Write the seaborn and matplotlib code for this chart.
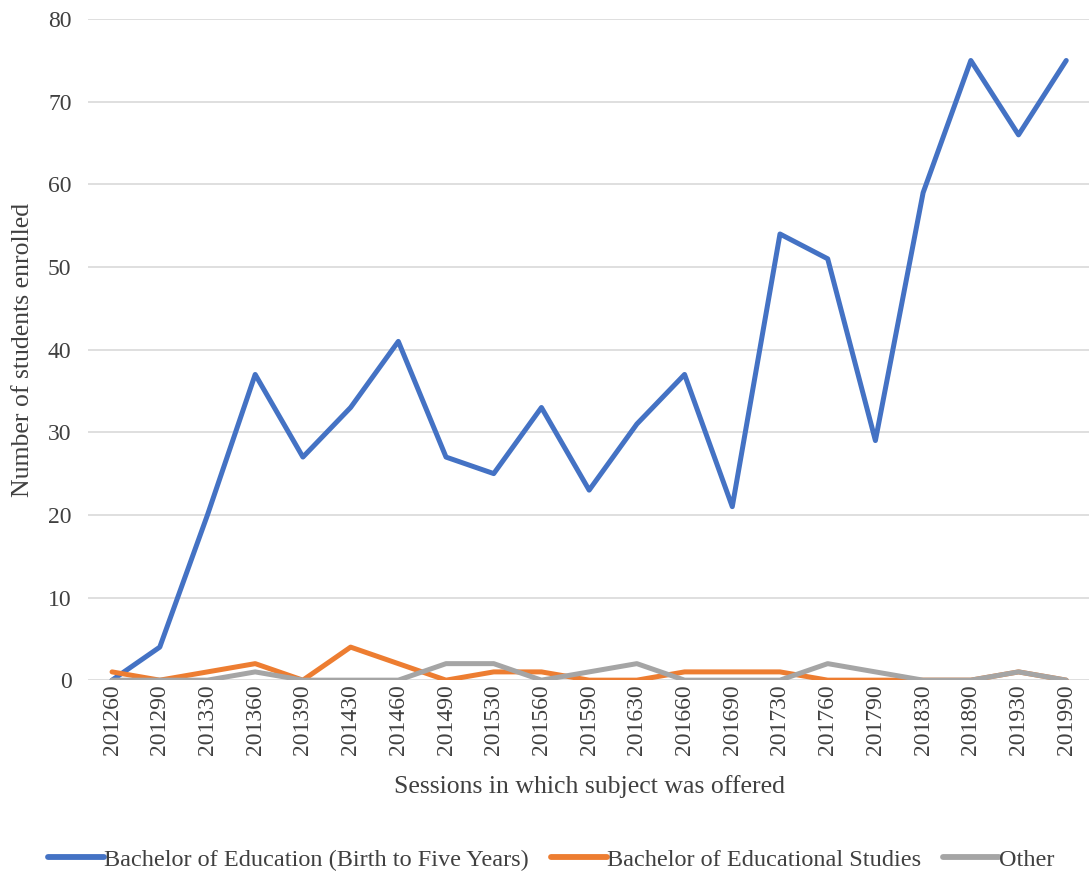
import pandas as pd
import seaborn as sns
import matplotlib.pyplot as plt

sessions = ["201260", "201290", "201330", "201360", "201390", "201430", "201460",
            "201490", "201530", "201560", "201590", "201630", "201660", "201690",
            "201730", "201760", "201790", "201830", "201890", "201930", "201990"]
birth_to_five = [0, 4, 20, 37, 27, 33, 41, 27, 25, 33, 23, 31, 37, 21, 54, 51, 29, 59, 75, 66, 75]
educational_studies = [1, 0, 1, 2, 0, 4, 2, 0, 1, 1, 0, 0, 1, 1, 1, 0, 0, 0, 0, 1, 0]
other = [0, 0, 0, 1, 0, 0, 0, 2, 2, 0, 1, 2, 0, 0, 0, 2, 1, 0, 0, 1, 0]

series_names = ["Bachelor of Education (Birth to Five Years)",
                "Bachelor of Educational Studies", "Other"]
colors = ["#4472C4", "#ED7D31", "#A5A5A5"]

frames = []
for name, vals in zip(series_names, [birth_to_five, educational_studies, other]):
    frames.append(pd.DataFrame({"session": sessions, "students": vals, "program": name}))
df = pd.concat(frames, ignore_index=True)

sns.set_style("white")
plt.rcParams['font.family'] = ['Liberation Serif', 'DejaVu Serif']

fig = plt.figure(figsize=(10.89, 8.72), dpi=100)
ax = fig.add_axes([0.081, 0.22, 0.92, 0.758])

sns.lineplot(data=df, x="session", y="students", hue="program", palette=colors,
             sort=False, linewidth=3.6, ax=ax, legend=True)

ax.set_xlim(-0.5, len(sessions) - 0.5)
ax.set_ylim(0, 80)
ax.set_yticks(range(0, 81, 10))
ax.yaxis.grid(True, color="#D9D9D9", linewidth=1.2)
ax.set_axisbelow(True)
for s in ax.spines.values():
    s.set_visible(False)
ax.tick_params(axis="x", labelrotation=90, labelsize=17, colors="#404040", length=0, pad=3)
ax.tick_params(axis="y", labelsize=17, colors="#404040", length=0, pad=12)
ax.set_xlabel("Sessions in which subject was offered", fontsize=18.5, color="#404040", labelpad=14)
ax.set_ylabel("Number of students enrolled", fontsize=18.5, color="#404040", labelpad=10)

leg = ax.legend(title=None, loc="center", bbox_to_anchor=(0.462, -0.272), ncol=3,
                frameon=False, fontsize=17.5, handlelength=2.3, handletextpad=0.0,
                columnspacing=0.9, labelcolor="#404040")
for line in leg.get_lines():
    line.set_linewidth(4.2)

fig.savefig("out.png", dpi=100)
